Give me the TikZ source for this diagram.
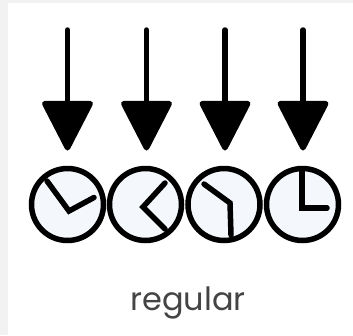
\documentclass[tikz,border=0pt]{standalone}
\usepackage{fontspec}
\setmainfont{Poppins}
\usetikzlibrary{arrows.meta}
\definecolor{pagegrey}{HTML}{F2F2F2}
\definecolor{faceblue}{HTML}{F4F8FC}
\definecolor{labelgrey}{HTML}{444444}
\tikzset{
  pointer/.style={line width=5.5pt,line cap=round,-{Triangle[width=53pt,length=53pt,round=false]}},
  clockface/.style={circle,draw=black,line width=5.5pt,fill=faceblue,minimum size=72pt,inner sep=0pt},
  clockhand/.style={line width=5.5pt,line cap=round,line join=miter},
}
\begin{document}
\begin{tikzpicture}[x=1pt,y=-1pt]
\useasboundingbox (0,0) rectangle (353,335);
\fill[pagegrey] (0,0) rectangle (353,335);
\fill[white] (8,3) rectangle (353,335);
\foreach \n/\x in {a/67.5,b/146.5,c/225,d/303}{
  \coordinate (from\n) at (\x,30);
  \coordinate (to\n) at (\x,150.5);
  \draw[pointer] (from\n) -- (to\n);
}
\node[clockface] (ca) at (67.5,204.5) {};
\node[clockface] (cb) at (145.5,204.5) {};
\node[clockface] (cc) at (224,204.5) {};
\node[clockface] (cd) at (302.5,204.5) {};
\draw[clockhand] (47,181) -- (69,211) -- (94,197.5);
\draw[clockhand] (165,183) -- (143,207) -- (165,229);
\draw[clockhand] (204,184) -- (230,203) -- (231,235);
\draw[clockhand] (302,170) -- (302,208) -- (327,208);
\node[text=labelgrey,font=\fontsize{32}{38}\selectfont,inner sep=0pt,anchor=base] (lab) at (188,310) {regular};
\end{tikzpicture}
\end{document}
